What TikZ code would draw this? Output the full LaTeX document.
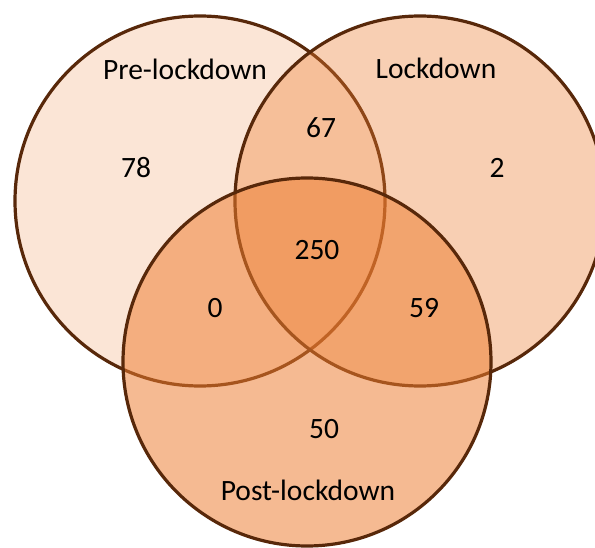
\documentclass[tikz,border=0pt]{standalone}
\usepackage{fontspec}
\setmainfont{Carlito}
\definecolor{vennorange}{RGB}{237,125,49}
\definecolor{vennedge}{RGB}{88,40,10}
\tikzset{
  venn/.style={circle, draw=vennedge, line width=3.2pt, fill=vennorange, inner sep=0pt},
  lbl/.style={anchor=base, inner sep=0pt, text=black, font=\fontsize{29.5}{33}\selectfont}
}
\begin{document}
\begin{tikzpicture}[x=1pt,y=-1pt]
\useasboundingbox (0,0) rectangle (595,548);
\clip (0,0) rectangle (595,548);
\node[venn, fill opacity=0.2, minimum size=370pt] (pre) at (200,201) {};
\node[venn, fill opacity=0.37, minimum size=370pt] (lock) at (420,201) {};
\node[venn, fill opacity=0.53, minimum size=368pt] (post) at (307,362) {};
\node[lbl] (tpre) at (185,80) {Pre-lockdown};
\node[lbl] (tlock) at (436,79) {Lockdown};
\node[lbl] (tpost) at (308,500) {Post-lockdown};
\node[lbl] (n78) at (136,178) {78};
\node[lbl] (n67) at (321,138) {67};
\node[lbl] (n2) at (497,178) {2};
\node[lbl] (n250) at (317,260) {250};
\node[lbl] (n0) at (215,318) {0};
\node[lbl] (n59) at (424,318) {59};
\node[lbl] (n50) at (324,438) {50};
\end{tikzpicture}
\end{document}
